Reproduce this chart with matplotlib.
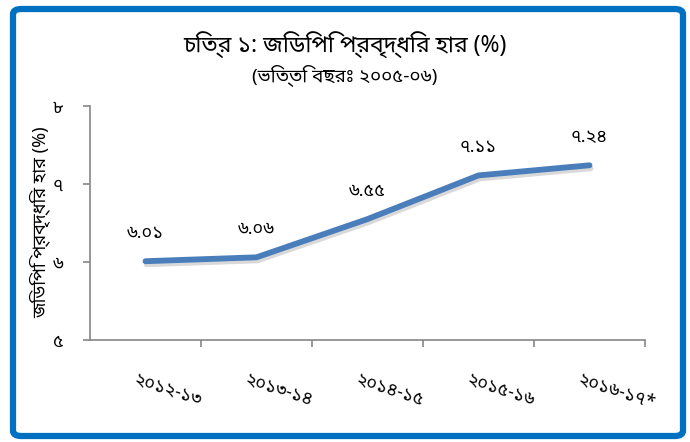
import matplotlib
matplotlib.use("Agg")
import matplotlib.pyplot as plt
import matplotlib.patheffects as pe
from matplotlib.patches import FancyBboxPatch

categories = ["২০১২-১৩", "২০১৩-১৪", "২০১৪-১৫", "২০১৫-১৬", "২০১৬-১৭*"]
growth = [6.01, 6.06, 6.55, 7.11, 7.24]
value_labels = ["৬.০১", "৬.০৬", "৬.৫৫", "৭.১১", "৭.২৪"]
yticks = [5, 6, 7, 8]
ytick_labels = ["৫", "৬", "৭", "৮"]
title = "চিত্র ১: জিডিপি প্রবৃদ্ধির হার (%)"
subtitle = "(ভিত্তি বছরঃ ২০০৫-০৬)"
ylabel = "জিডিপি প্রবৃদ্ধির হার (%)"

FAM = ["Noto Sans Bengali", "Noto Serif Bengali", "Lohit Bengali", "Vrinda",
       "FreeSans", "Noto Sans", "DejaVu Sans"]
plt.rcParams["font.family"] = FAM

W, H = 690, 442
fig = plt.figure(figsize=(W / 100, H / 100), dpi=100)

# blue rounded frame
frame = FancyBboxPatch((13 / W, 6 / H), (670) / W, (427) / H,
                       boxstyle="round,pad=0,rounding_size=0.012",
                       transform=fig.transFigure, fill=False,
                       edgecolor="#0070C0", linewidth=4.5, zorder=0)
fig.patches.append(frame)

x0, x1 = 90, 645
y0, y1 = 340, 106
ax = fig.add_axes([x0 / W, 1 - y0 / H, (x1 - x0) / W, (y0 - y1) / H])
ax.set_facecolor("none")

xs = list(range(len(categories)))
ax.plot(xs, growth, color="#4A7EBB", linewidth=4.2, solid_capstyle="round",
        solid_joinstyle="round",
        path_effects=[pe.SimpleLineShadow(offset=(0.8, -2.2), shadow_color="#000000",
                                          alpha=0.15), pe.Normal()], zorder=3)

for x, v, lab in zip(xs, growth, value_labels):
    ax.annotate(lab, (x, v), xytext=(0, 14), textcoords="offset points",
                ha="center", va="bottom", fontsize=13, fontweight="bold",
                color="black")

ax.set_xlim(-0.5, len(categories) - 0.5)
ax.set_ylim(5, 8)
ax.set_yticks(yticks)
ax.set_yticklabels(ytick_labels, fontsize=13, fontweight="bold")
ax.set_xticks([i + 0.5 for i in range(len(categories))])
ax.set_xticklabels([])
for x, lab in zip(xs, categories):
    ax.text(x - 0.1, -0.17, lab, transform=ax.get_xaxis_transform(),
            rotation=-18, rotation_mode="anchor", ha="left", va="center",
            fontsize=13, fontweight="bold")

for s in ["top", "right"]:
    ax.spines[s].set_visible(False)
for s in ["left", "bottom"]:
    ax.spines[s].set_color("#868686")
    ax.spines[s].set_linewidth(1.2)
ax.tick_params(axis="both", colors="#868686", length=5, width=1.2, labelcolor="black")
ax.tick_params(axis="y", pad=14)

fig.text(40 / W, 1 - 222 / H, ylabel, rotation=90, ha="center", va="center",
         fontsize=13, fontweight="bold")
fig.text(345 / W, 1 - 45 / H, title, ha="center", va="center",
         fontsize=16.5, fontweight="bold")
fig.text(345 / W, 1 - 76 / H, subtitle, ha="center", va="center",
         fontsize=13.5, fontweight="bold")

fig.savefig("out.png", dpi=100)
